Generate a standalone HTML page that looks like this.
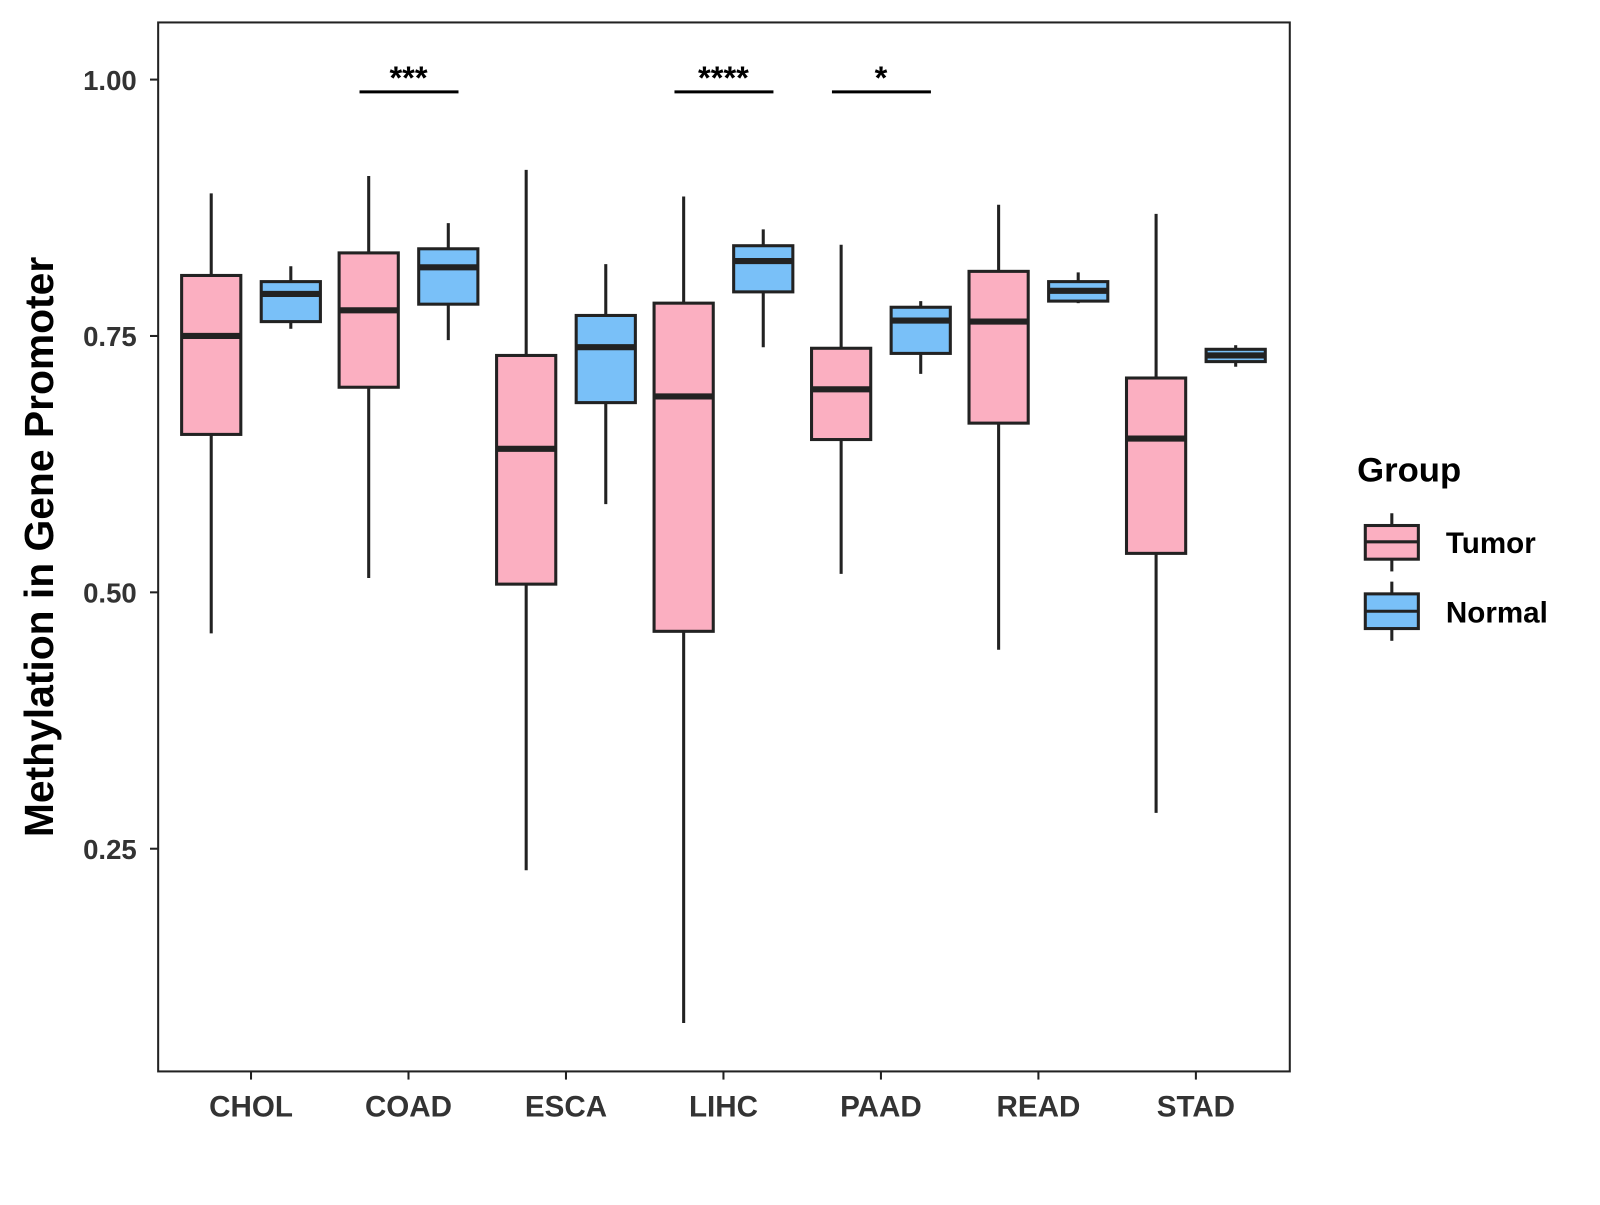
<!DOCTYPE html>
<html><head><meta charset="utf-8"><style>
body{margin:0;background:#fff}
svg text{font-family:"Liberation Sans",Arial,sans-serif;font-weight:bold}
</style></head><body>
<svg id="chart" width="1600" height="1200" viewBox="0 0 1600 1200" xmlns="http://www.w3.org/2000/svg">
<rect x="0" y="0" width="1600" height="1200" fill="#fff"/>
<g transform="scale(1.0204)">
<g id="plot"></g>
<rect x="155" y="22" width="1109" height="1028" fill="none" stroke="#222" stroke-width="2"/>
<text transform="translate(52,536) rotate(-90)" text-anchor="middle" font-size="40" fill="#000">Methylation in Gene Promoter</text>
<g>
<text x="1330" y="472" font-size="34" fill="#000">Group</text>
<g>
<line x1="1364" y1="503" x2="1364" y2="560" stroke="#222" stroke-width="3"/>
<rect x="1338" y="515" width="52" height="33" fill="#FBAFC1" stroke="#222" stroke-width="3"/>
<line x1="1338" y1="531" x2="1390" y2="531" stroke="#222" stroke-width="3"/>
<text x="1417" y="542" font-size="29" fill="#000">Tumor</text>
</g>
<g>
<line x1="1364" y1="570" x2="1364" y2="628" stroke="#222" stroke-width="3"/>
<rect x="1338" y="582" width="52" height="34" fill="#79C0F8" stroke="#222" stroke-width="3"/>
<line x1="1338" y1="599" x2="1390" y2="599" stroke="#222" stroke-width="3"/>
<text x="1417" y="610" font-size="29" fill="#000">Normal</text>
</g>
</g>
</g>
</svg>
<script>
const categories=["CHOL","COAD","ESCA","LIHC","PAAD","READ","STAD"];
const tumorStats=[[0.460,0.654,0.750,0.809,0.889],[0.514,0.700,0.775,0.831,0.906],[0.229,0.508,0.640,0.731,0.912],[0.080,0.462,0.691,0.782,0.886],[0.518,0.649,0.698,0.738,0.839],[0.444,0.665,0.764,0.813,0.878],[0.285,0.538,0.650,0.709,0.869]];
const normalStats=[[0.757,0.764,0.791,0.803,0.818],[0.746,0.781,0.817,0.835,0.860],[0.586,0.685,0.739,0.770,0.820],[0.739,0.793,0.823,0.838,0.854],[0.713,0.733,0.765,0.778,0.784],[0.782,0.784,0.794,0.803,0.812],[0.720,0.725,0.731,0.737,0.741]];
const yTicks=[0.25,0.50,0.75,1.00];
const yTickLabels=["0.25","0.50","0.75","1.00"];
const sigCategories=["COAD","LIHC","PAAD"];
const sigLabels=["***","****","*"];
const sigLevel=0.988;

const NS="http://www.w3.org/2000/svg";
const g=document.getElementById('plot');
function y(v){return 78+(1-v)*1005;}
function x(i){return 246+i*154.33;}
function el(t,a){const e=document.createElementNS(NS,t);for(const k in a)e.setAttribute(k,a[k]);g.appendChild(e);return e;}
yTicks.forEach((v,i)=>{
  const t=el('line',{x1:147,x2:155,y1:y(v),y2:y(v),stroke:'#222','stroke-width':2});
  
  
  const l=el('text',{x:134,y:y(v)+10,'text-anchor':'end','font-size':27,fill:'#333'});
  l.textContent=yTickLabels[i];
  
  
});
categories.forEach((c,i)=>{
  const t=el('line',{x1:x(i),x2:x(i),y1:1050,y2:1058,stroke:'#222','stroke-width':2});
  
  
  const l=el('text',{x:x(i),y:1094,'text-anchor':'middle','font-size':29,fill:'#333'});
  l.textContent=c;
  
  
});
function box(cx,s,fill,name){
  const w=el('line',{x1:cx,x2:cx,y1:y(s[0]),y2:y(s[4]),stroke:'#222','stroke-width':3});
  
  
  const r=el('rect',{x:cx-29,y:y(s[3]),width:58,height:y(s[1])-y(s[3]),fill:fill,stroke:'#222','stroke-width':3});
  
  
  const m=el('line',{x1:cx-29,x2:cx+29,y1:y(s[2]),y2:y(s[2]),stroke:'#222','stroke-width':6});
  
  
}
categories.forEach((c,i)=>{
  box(x(i)-39,tumorStats[i],'#FBAFC1','tumor-'+c.toLowerCase());
  box(x(i)+39,normalStats[i],'#79C0F8','normal-'+c.toLowerCase());
});
sigCategories.forEach((c,k)=>{
  const i=categories.indexOf(c);
  const b=el('line',{x1:x(i)-48,x2:x(i)+49,y1:y(sigLevel),y2:y(sigLevel),stroke:'#000','stroke-width':3});
  
  
  const t=el('text',{x:x(i),y:y(sigLevel)-3,'text-anchor':'middle','font-size':32,fill:'#000'});
  t.textContent=sigLabels[k];
  
  
});
</script>
</body></html>
